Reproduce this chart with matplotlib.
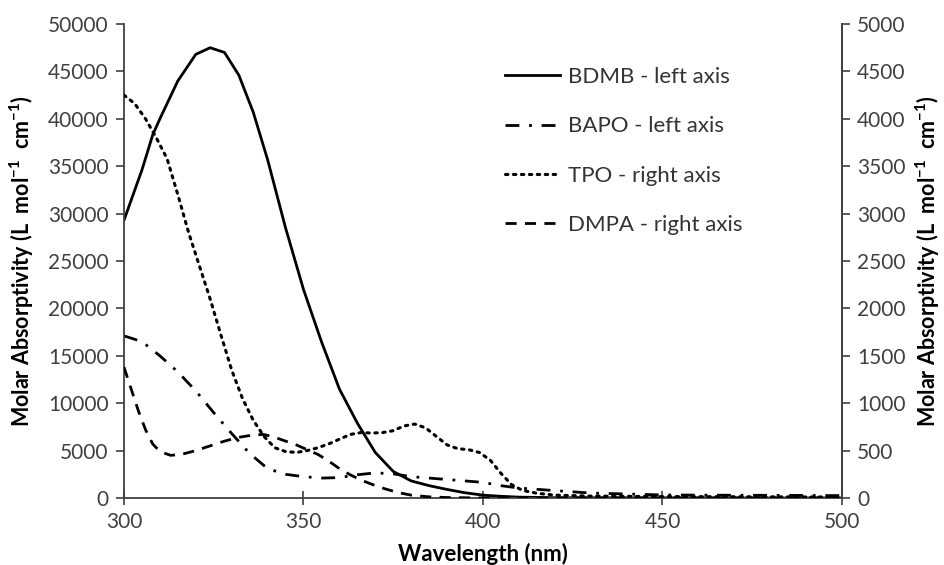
import matplotlib
matplotlib.use("Agg")
import matplotlib.pyplot as plt

# ---------------- data ----------------
bdmb_wl = [300, 305, 308, 310, 315, 320, 324, 328, 332, 336, 340, 345, 350, 355, 360,
           365, 370, 375, 380, 385, 390, 395, 400, 405, 410, 420, 440, 460, 480, 500]
bdmb_val = [29300, 34600, 38300, 40000, 44000, 46800, 47500, 47000, 44600, 40700, 35700,
            28500, 22000, 16500, 11500, 7900, 4800, 2800, 1800, 1300, 900, 550, 300,
            180, 90, 30, 10, 0, 0, 0]

bapo_wl = [300, 305, 310, 315, 320, 325, 330, 335, 340, 345, 350, 355, 360, 365, 370,
           375, 380, 385, 390, 395, 400, 405, 410, 420, 430, 440, 450, 460, 480, 500]
bapo_val = [17100, 16500, 15000, 13300, 11300, 9000, 6800, 4700, 3100, 2500, 2250, 2100,
            2150, 2450, 2650, 2550, 2250, 2100, 1950, 1800, 1650, 1300, 1050, 780, 520,
            420, 320, 300, 280, 250]

tpo_wl = [300, 303, 306, 309, 312, 315, 318, 321, 324, 327, 330, 333, 336, 339, 342, 345,
          348, 351, 354, 357, 360, 363, 366, 369, 372, 375, 378, 381, 384, 387, 390, 393,
          396, 399, 402, 405, 408, 411, 415, 420, 430, 450, 500]
tpo_val = [4250, 4160, 4000, 3800, 3580, 3200, 2800, 2450, 2100, 1720, 1350, 1050, 820,
           650, 530, 490, 480, 500, 530, 570, 620, 670, 690, 685, 690, 710, 760, 780, 740,
           650, 560, 520, 510, 480, 400, 260, 140, 80, 50, 30, 20, 15, 10]

dmpa_wl = [300, 302, 304, 306, 308, 310, 313, 316, 320, 324, 328, 332, 336, 339, 342, 345,
           348, 351, 354, 357, 360, 363, 366, 369, 372, 376, 380, 385, 390, 400, 500]
dmpa_val = [1380, 1150, 920, 720, 570, 490, 450, 460, 500, 550, 600, 640, 665, 670, 640,
            600, 560, 510, 460, 390, 310, 245, 190, 145, 105, 60, 30, 12, 5, 0, 0]

labels = ["BDMB - left axis", "BAPO - left axis", "TPO - right axis", "DMPA - right axis"]
x_ticks = [300, 350, 400, 450, 500]
left_ticks = list(range(0, 50001, 5000))
right_ticks = list(range(0, 5001, 500))

# ---------------- style ----------------
plt.rcParams['font.family'] = ['Lato', 'DejaVu Sans']
plt.rcParams['mathtext.default'] = 'regular'
tick_color = '#404040'

fig = plt.figure(figsize=(9.45, 5.65), dpi=100)
ax = fig.add_axes([0.1312, 0.1186, 0.7598, 0.8389])
ax2 = ax.twinx()

lc = 'black'
h1, = ax.plot(bdmb_wl, bdmb_val, color=lc, lw=2.0, ls='-')
h2, = ax.plot(bapo_wl, bapo_val, color=lc, lw=2.0, ls=(0, (5, 3.5, 1, 3.5)))
h3, = ax2.plot(tpo_wl, tpo_val, color=lc, lw=2.2, ls=(0, (0.8, 1.8)), dash_capstyle='round')
h4, = ax2.plot(dmpa_wl, dmpa_val, color=lc, lw=2.0, ls=(0, (4, 3)))

ax.set_xlim(300, 500)
ax.set_ylim(0, 50000)
ax2.set_ylim(0, 5000)
ax.set_xticks(x_ticks)
ax.set_yticks(left_ticks)
ax2.set_yticks(right_ticks)

for a in (ax, ax2):
    a.spines['top'].set_visible(False)
    for s in a.spines.values():
        s.set_color('#404040')
        s.set_linewidth(1.3)
ax2.spines['left'].set_visible(False)
ax2.spines['bottom'].set_visible(False)

fs_tick = 15
ax.tick_params(axis='y', direction='out', length=6, width=1.2, colors='#404040',
               labelcolor=tick_color, labelsize=fs_tick, pad=5)
ax.tick_params(axis='x', direction='inout', length=10, width=1.2, colors='#404040',
               labelcolor=tick_color, labelsize=fs_tick, pad=5)
ax2.tick_params(axis='y', direction='out', length=6, width=1.2, colors='#404040',
                labelcolor=tick_color, labelsize=fs_tick, pad=5)

ylab = r'Molar Absorptivity (L  mol$^{-1}$  cm$^{-1}$)'
ax.set_ylabel(ylab, fontsize=15.5, fontweight='bold')
ax2.set_ylabel(ylab, fontsize=15.5, fontweight='bold', rotation=90)
ax.yaxis.set_label_coords(-0.122, 0.5)
ax2.yaxis.set_label_coords(1.1, 0.5)
ax.set_xlabel('Wavelength (nm)', fontsize=16, fontweight='bold')
ax.xaxis.set_label_coords(0.5, -0.095)

leg = ax.legend([h1, h2, h3, h4], labels, loc='upper left', bbox_to_anchor=(0.531, 0.909),
                frameon=False, fontsize=16, handlelength=2.48, handletextpad=0.36,
                labelspacing=1.32, borderpad=0, borderaxespad=0, labelcolor='#333333')

fig.savefig('out.png', dpi=100)
